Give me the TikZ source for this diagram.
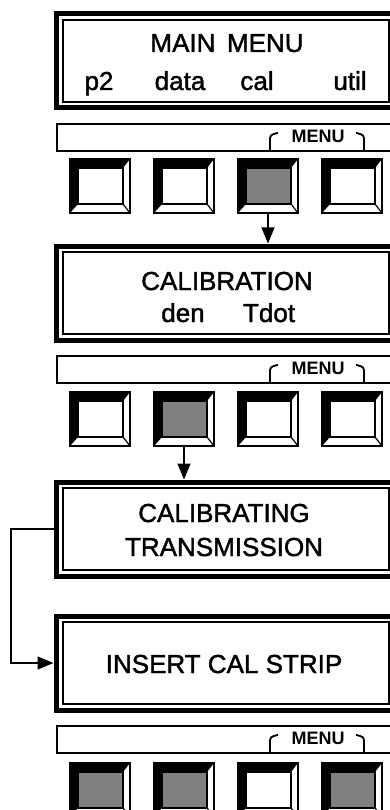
\documentclass[tikz,border=0pt]{standalone}
\usepackage{fontspec}
\setmainfont{Liberation Sans}
\usetikzlibrary{arrows.meta}
\definecolor{KeyGray}{HTML}{808080}

\begin{document}
\begin{tikzpicture}[x=1pt,y=-1pt,
    screen/.style={draw, line width=5pt, minimum width=340pt, minimum height=94pt, inner sep=0pt},
    lcd/.style={font=\fontsize{26}{30}\selectfont\addfontfeature{FakeBold=1.6}, anchor=base, inner sep=0pt},
    menubar/.style={draw, line width=1.8pt, minimum width=340pt, minimum height=27pt, inner sep=0pt},
    menutag/.style={font=\fontsize{18}{20}\selectfont\bfseries, anchor=base, inner sep=0pt},
    bracket/.style={line width=1.8pt},
    key/.style={draw, line width=1.2pt, minimum width=60pt, minimum height=54pt, inner sep=0pt, outer sep=0pt},
    arrow/.style={-{Triangle[length=16pt,width=13pt]}, line width=1.2pt}
]
\useasboundingbox (0,0) rectangle (390,810);
\clip (0,0) rectangle (390,810);

% display screens
\node[screen] (main) at (226,61) {};
\node[screen] (calib) at (226,293) {};
\node[screen] (trans) at (226,529) {};
\node[screen] (strip) at (226,663) {};
\foreach \s in {main,calib,trans,strip}
  \draw[line width=1.5pt] ([shift={(9.5,8.5)}]\s.north west) rectangle ([shift={(-9.5,-8.5)}]\s.south east);

\node[lcd] (mainttl) at (227,52) {MAIN\, MENU};
\node[lcd] (p2) at (99,90) {p2};
\node[lcd] (data) at (180,90) {data};
\node[lcd] (cal) at (257,90) {cal};
\node[lcd] (util) at (350,90) {util};

\node[lcd] (calttl) at (227,290) {CALIBRATION};
\node[lcd] (den) at (183,322) {den};
\node[lcd] (tdot) at (269,322) {Tdot};

\node[lcd] (calibing) at (224,522) {CALIBRATING};
\node[lcd] (transm) at (224,556) {TRANSMISSION};

\node[lcd] (insert) at (224,673) {INSERT CAL STRIP};

% soft key bars
\node[menubar] (bar1) at (227,137.5) {};
\node[menubar] (bar2) at (227,369.5) {};
\node[menubar] (bar3) at (227,739.5) {};
\foreach \b in {bar1,bar2,bar3} {
  \node[menutag] (\b tag) at ([shift={(91,19)}]\b.north) {MENU};
  \begin{scope}[shift={(\b.south)}]
    \draw[bracket] (43,-1) -- (43,-10) .. controls (43,-17) .. (51,-19);
    \draw[bracket] (129,-19) .. controls (137,-17) .. (137,-10) -- (137,-1);
  \end{scope}
}

% soft keys
\foreach \r/\y/\fa/\fb/\fc/\fd in {1/186/white/white/KeyGray/white,
    2/419/white/KeyGray/white/white, 3/790/KeyGray/KeyGray/white/KeyGray} {
  \foreach \x/\f [count=\i] in {100/\fa,184/\fb,268/\fc,352/\fd} {
    \node[key] (k\r\i) at (\x,\y) {};
    \fill (k\r\i.north west) -- (k\r\i.north east) -- ([shift={(-7,9)}]k\r\i.north east)
      -- ([shift={(8,9)}]k\r\i.north west) -- ([shift={(8,-9)}]k\r\i.south west)
      -- (k\r\i.south west) -- cycle;
    \draw[fill=\f, line width=1.2pt] ([shift={(8,9)}]k\r\i.north west) rectangle ([shift={(-7,-9)}]k\r\i.south east);
    \draw[line width=1.2pt] ([shift={(-7,-9)}]k\r\i.south east) -- (k\r\i.south east);
  }
}

% flow
\draw[arrow] (k13.south) -- (k13.south |- calib.north);
\draw[arrow] (k22.south) -- (k22.south |- trans.north);
\coordinate (loop) at (11,529);
\draw[arrow] (trans.west) -- (loop) |- (strip.west);
\end{tikzpicture}
\end{document}
